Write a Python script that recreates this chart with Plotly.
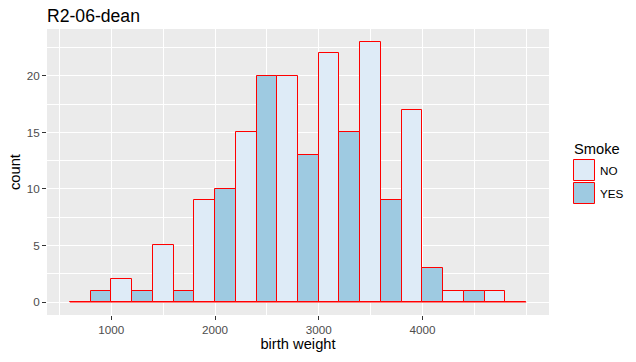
import plotly.graph_objects as go

# Bin centres of the histogram (binwidth 400, dodged by Smoke)
bin_centers = [800, 1200, 1600, 2000, 2400, 2800, 3200, 3600, 4000, 4400, 4800]
bin_width = 400
no_counts = [0, 2, 5, 9, 15, 20, 22, 23, 17, 1, 1]
yes_counts = [1, 1, 1, 10, 20, 13, 15, 9, 3, 1, 0]
groups = ["NO", "YES"]
x_ticks = [1000, 2000, 3000, 4000]
y_ticks = [0, 5, 10, 15, 20]

FONT = "Liberation Sans, Arial, sans-serif"
RED = "#FF0000"
FILLS = {"NO": "#DEEBF7", "YES": "#9ECAE1"}

W, H = 636, 362
L, R, T, B = 47, 87, 29, 47
PW, PH = W - L - R, H - T - B


def px(x):
    return (x - L) / PW


def py(y):
    return (H - B - y) / PH


fig = go.Figure()
for name, vals in zip(groups, [no_counts, yes_counts]):
    fig.add_trace(go.Bar(
        x=bin_centers, y=vals, name=name, showlegend=False,
        marker=dict(color=FILLS[name], line=dict(color=RED, width=1)),
    ))
# baseline drawn by zero-height bars in ggplot
fig.add_trace(go.Scatter(
    x=[bin_centers[0] - bin_width / 2, bin_centers[-1] + bin_width / 2], y=[0, 0],
    mode="lines", line=dict(color=RED, width=1), showlegend=False, hoverinfo="skip",
))

# legend (ggplot style keys)
shapes = []
annotations = [dict(text="Smoke", x=px(572), y=py(149), xref="paper", yref="paper",
                    xanchor="left", yanchor="middle", showarrow=False,
                    font=dict(size=14.7, color="#000000"))]
key_tops = [159.5, 182.5]
for name, top in zip(groups, key_tops):
    shapes.append(dict(type="rect", xref="paper", yref="paper",
                       x0=px(573.5), x1=px(594.5), y0=py(top + 21), y1=py(top),
                       fillcolor=FILLS[name], line=dict(color=RED, width=1)))
    annotations.append(dict(text=name, x=px(597.5), y=py(top + 11), xref="paper", yref="paper",
                            xanchor="left", yanchor="middle", showarrow=False,
                            font=dict(size=11.7, color="#000000")))

fig.update_layout(
    width=W, height=H,
    barmode="group", bargap=0, bargroupgap=0,
    paper_bgcolor="white", plot_bgcolor="#EBEBEB",
    margin=dict(l=L, r=R, t=T, b=B, autoexpand=False),
    font=dict(family=FONT, color="#000000"),
    title=dict(text="R2-06-dean", x=47 / W, xanchor="left", y=1 - 16 / H, yanchor="middle",
               font=dict(size=17.6, color="#000000"), automargin=False),
    showlegend=False,
    shapes=shapes, annotations=annotations,
)
fig.update_xaxes(
    automargin=False,
    range=[380, 5220], tickvals=x_ticks, ticks="outside", ticklen=4, tickcolor="#333333",
    tickfont=dict(size=11.7, color="#4D4D4D"), showgrid=True, gridcolor="white", gridwidth=1.1,
    minor=dict(dtick=500, tick0=500, showgrid=True, gridcolor="white", gridwidth=0.55),
    zeroline=False, showline=False,
    title=dict(text="birth weight", font=dict(size=14.7), standoff=3),
)
fig.update_yaxes(
    automargin=False,
    range=[-1.15, 24.15], tickvals=y_ticks, ticks="outside", ticklen=4, tickcolor="#333333",
    tickfont=dict(size=11.7, color="#4D4D4D"), showgrid=True, gridcolor="white", gridwidth=1.1,
    minor=dict(dtick=2.5, tick0=2.5, showgrid=True, gridcolor="white", gridwidth=0.55),
    zeroline=False, showline=False,
    title=dict(text="count", font=dict(size=14.7), standoff=2),
)

fig.write_html("out.html", config={"displayModeBar": False},
               post_script="document.body.style.margin='0px';")
